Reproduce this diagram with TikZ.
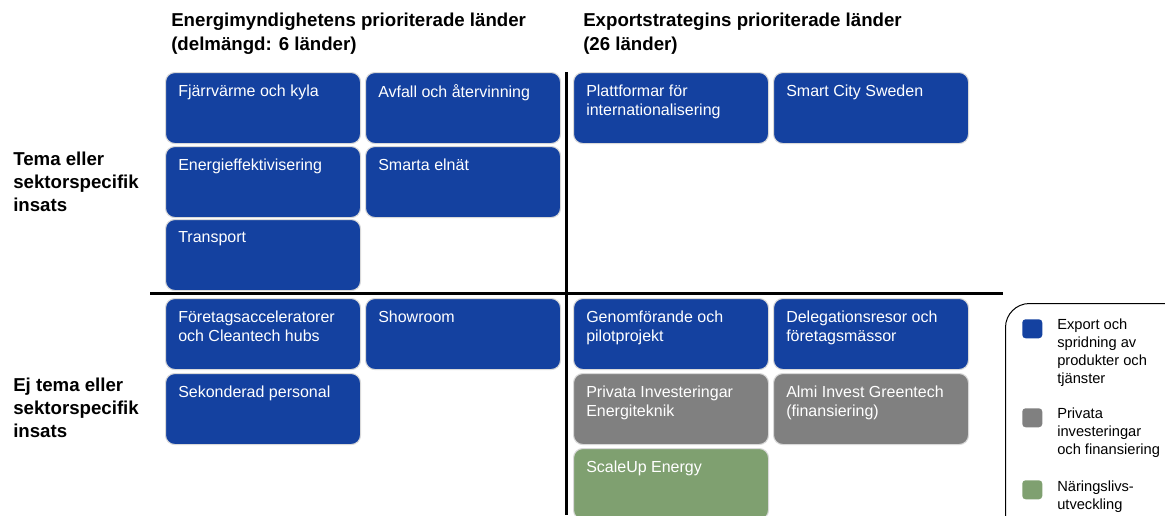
\documentclass[tikz,border=0pt]{standalone}
\usepackage{fontspec}
\setmainfont{Liberation Sans}
\usepackage{xcolor}
\usepackage{tikz}
\usetikzlibrary{positioning}

\definecolor{exportblue}{RGB}{20,65,160}
\definecolor{investgray}{RGB}{128,128,128}
\definecolor{growthgreen}{RGB}{127,160,112}

\begin{document}
\begin{tikzpicture}[
    x=0.75pt, y=-0.75pt,
    tile/.style={rectangle, rounded corners=7pt, draw=white!85!black, line width=0.8pt, minimum width=146.25pt, minimum height=53.25pt, inner sep=0pt, anchor=north west},
    tiletext/.style={anchor=north west, xshift=9.75pt, yshift=-9.5pt, inner sep=0pt, text=white, align=left, font=\fontsize{12}{14.5}\selectfont},
    exportbox/.style={tile, fill=exportblue},
    investbox/.style={tile, fill=investgray},
    growthbox/.style={tile, fill=growthgreen},
    heading/.style={anchor=north west, inner sep=0pt, align=left, font=\fontsize{14}{18}\selectfont\bfseries},
    rowhead/.style={anchor=north west, inner sep=0pt, align=left, font=\fontsize{14}{17.25}\selectfont\bfseries},
    divider/.style={line width=2.25pt},
    legendframe/.style={rectangle, rounded corners=18pt, draw=black, line width=0.75pt, minimum width=150pt, minimum height=180pt, inner sep=0pt, anchor=north west},
    keybox/.style={rectangle, rounded corners=2.5pt, minimum width=15pt, minimum height=14.25pt, inner sep=0pt, anchor=north west},
    keytext/.style={anchor=north west, inner sep=0pt, align=left, font=\fontsize{11}{13.5}\selectfont}
]

% Frame of the picture
\useasboundingbox (0,0) rectangle (1165,515);
\clip (0,0) rectangle (1165,515);

% ===== HEADINGS =====
\node[heading] (energihead) at (171,13) {Energimyndighetens prioriterade länder\\(delmängd: 6 länder)};
\node[heading] (exporthead) at (583,13) {Exportstrategins prioriterade länder\\(26 länder)};
\node[rowhead] (temahead) at (13,152) {Tema eller\\sektorspecifik\\insats};
\node[rowhead] (ejtemahead) at (13,378) {Ej tema eller\\sektorspecifik\\insats};

% ===== DIVIDERS =====
\coordinate (vtop) at (566,72);
\coordinate (vbot) at (566,515);
\coordinate (hleft) at (150,293);
\coordinate (hright) at (1003,293);
\draw[divider] (vtop) -- (vbot);
\draw[divider] (hleft) -- (hright);

% ===== TEMA - Energimyndigheten =====
\node[exportbox, label={[tiletext]north west:Fjärrvärme och kyla}] (fjarrvarme) at (165,72) {};
\node[exportbox, label={[tiletext]north west:Avfall och återvinning}] (avfall) at (365,72) {};
\node[exportbox, label={[tiletext]north west:Energieffektivisering}] (energieff) at (165,146) {};
\node[exportbox, label={[tiletext]north west:Smarta elnät}] (elnat) at (365,146) {};
\node[exportbox, label={[tiletext]north west:Transport}] (transport) at (165,219) {};

% ===== TEMA - Exportstrategin =====
\node[exportbox, label={[tiletext]north west:Plattformar för\\internationalisering}] (plattformar) at (573,72) {};
\node[exportbox, label={[tiletext]north west:Smart City Sweden}] (smartcity) at (773,72) {};

% ===== EJ TEMA - Energimyndigheten =====
\node[exportbox, label={[tiletext]north west:Företagsacceleratorer\\och Cleantech hubs}] (acceleratorer) at (165,298) {};
\node[exportbox, label={[tiletext]north west:Showroom}] (showroom) at (365,298) {};
\node[exportbox, label={[tiletext]north west:Sekonderad personal}] (sekonderad) at (165,373) {};

% ===== EJ TEMA - Exportstrategin =====
\node[exportbox, label={[tiletext]north west:Genomförande och\\pilotprojekt}] (genomforande) at (573,298) {};
\node[exportbox, label={[tiletext]north west:Delegationsresor och\\företagsmässor}] (delegation) at (773,298) {};
\node[investbox, label={[tiletext]north west:Privata Investeringar\\Energiteknik}] (privata) at (573,373) {};
\node[investbox, label={[tiletext]north west:Almi Invest Greentech\\(finansiering)}] (almi) at (773,373) {};
\node[growthbox, label={[tiletext]north west:ScaleUp Energy}] (scaleup) at (573,448) {};

% ===== LEGEND =====
\node[legendframe] (legend) at (1005,303) {};
\node[keybox, fill=exportblue] (keyexport) at (1022,319) {};
\node[keybox, fill=investgray] (keyinvest) at (1022,408) {};
\node[keybox, fill=growthgreen] (keygrowth) at (1022,480) {};
\node[keytext] (txtexport) at (1057,319) {Export och\\spridning av\\produkter och\\tjänster};
\node[keytext] (txtinvest) at (1057,408) {Privata\\investeringar\\och finansiering};
\node[keytext] (txtgrowth) at (1057,481) {Näringslivs-\\utveckling};

\end{tikzpicture}
\end{document}
